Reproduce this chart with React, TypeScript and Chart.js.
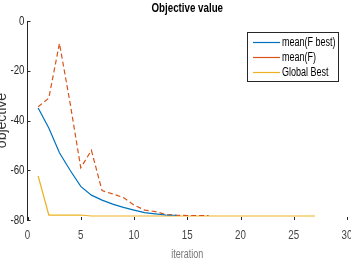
import React, { useEffect, useRef } from "react";
import { Chart, registerables } from "chart.js";

Chart.register(...registerables);

const iterations = [1, 2, 3, 4, 5, 6, 7, 8, 9, 10, 11, 12, 13, 14, 15, 16, 17, 18, 19, 20, 21, 22, 23, 24, 25, 26, 27];
const meanFBest = [-35, -43, -53, -60, -66.5, -70, -72, -73.6, -74.9, -76, -77, -77.5, -78, -78.1];
const meanF = [-34.5, -31, -9, -33, -59, -52, -68.2, -69.5, -71, -74, -76, -76.6, -77.8, -78.1, -78.2, -78.2, -78.2];
const globalBest = [-62.3, -78, -78, -78, -78, -78.4, -78.4, -78.4, -78.4, -78.4, -78.4, -78.4, -78.4, -78.4, -78.4, -78.4, -78.4, -78.4, -78.4, -78.4, -78.4, -78.4, -78.4, -78.4, -78.4, -78.4, -78.4];
const seriesLabels = ["mean(F best)", "mean(F)", "Global Best"];
const seriesColors = ["#0072BD", "#D95319", "#EDB120"];
const xTicks = [0, 5, 10, 15, 20, 25, 30];
const yTicks = [0, -20, -40, -60, -80];

const FONT = '"Liberation Sans", Arial, sans-serif';
const SQUEEZE = 0.75;

// Draw horizontal text slightly condensed, like the reference's narrow type.
function condenseText(ctx: any) {
  if (ctx.__condensed) return;
  ctx.__condensed = true;
  const fill = ctx.fillText.bind(ctx);
  const measure = ctx.measureText.bind(ctx);
  ctx.fillText = (text: string, x: number, y: number, maxWidth?: number) => {
    const m = ctx.getTransform();
    if (Math.abs(m.b) > 1e-6 || Math.abs(m.c) > 1e-6) {
      if (maxWidth === undefined) fill(text, x, y); else fill(text, x, y, maxWidth);
      return;
    }
    ctx.save();
    ctx.translate(x, y);
    ctx.scale(SQUEEZE, 1);
    if (maxWidth === undefined) fill(text, 0, 0); else fill(text, 0, 0, maxWidth / SQUEEZE);
    ctx.restore();
  };
  ctx.measureText = (text: string) => {
    const r = measure(text);
    return {
      width: r.width * SQUEEZE,
      actualBoundingBoxAscent: r.actualBoundingBoxAscent,
      actualBoundingBoxDescent: r.actualBoundingBoxDescent,
      actualBoundingBoxLeft: r.actualBoundingBoxLeft * SQUEEZE,
      actualBoundingBoxRight: r.actualBoundingBoxRight * SQUEEZE,
    };
  };
}

const toPoints = (vals: number[]) => vals.map((v, i) => ({ x: iterations[i], y: v }));

const tickMarks = {
  id: "tickMarks",
  afterDraw(chart: any) {
    const { ctx, chartArea, scales } = chart;
    ctx.save();
    ctx.strokeStyle = "#262626";
    ctx.lineWidth = 1;
    ctx.beginPath();
    scales.y.ticks.forEach((t: any) => {
      const y = Math.round(scales.y.getPixelForValue(t.value)) + 0.5;
      ctx.moveTo(chartArea.left, y);
      ctx.lineTo(chartArea.left + 3, y);
    });
    scales.x.ticks.forEach((t: any) => {
      const x = Math.round(scales.x.getPixelForValue(t.value)) + 0.5;
      ctx.moveTo(x, chartArea.bottom);
      ctx.lineTo(x, chartArea.bottom - 3);
    });
    ctx.stroke();
    ctx.restore();
  },
};

const boxLegend = {
  id: "boxLegend",
  afterDraw(chart: any) {
    const { ctx } = chart;
    const bx = 255, by = 32, bw = 91, bh = 49;
    ctx.save();
    ctx.fillStyle = "#ffffff";
    ctx.fillRect(bx, by, bw, bh);
    ctx.strokeStyle = "#262626";
    ctx.lineWidth = 1;
    ctx.strokeRect(bx + 0.5, by + 0.5, bw, bh);
    ctx.font = "12px " + FONT;
    ctx.textBaseline = "middle";
    ctx.textAlign = "left";
    chart.data.datasets.forEach((ds: any, i: number) => {
      const y = by + 10.5 + i * 15;
      ctx.strokeStyle = ds.borderColor;
      ctx.lineWidth = 1.2;
      ctx.setLineDash([]);
      ctx.beginPath();
      ctx.moveTo(bx + 6, y);
      ctx.lineTo(bx + 33, y);
      ctx.stroke();
      ctx.fillStyle = "#000000";
      ctx.fillText(ds.label, bx + 35, y);
    });
    ctx.restore();
  },
};

export default function App() {
  const ref = useRef<HTMLCanvasElement>(null);
  useEffect(() => {
    if (!ref.current) return;
    const ctx = ref.current.getContext("2d");
    condenseText(ctx);
    const chart = new Chart(ref.current, {
      type: "line",
      data: {
        datasets: [
          { label: seriesLabels[0], data: toPoints(meanFBest), borderColor: seriesColors[0], borderWidth: 1.2, pointRadius: 0, tension: 0, fill: false },
          { label: seriesLabels[1], data: toPoints(meanF), borderColor: seriesColors[1], borderWidth: 1.2, borderDash: [5, 3], pointRadius: 0, tension: 0, fill: false },
          { label: seriesLabels[2], data: toPoints(globalBest), borderColor: seriesColors[2], borderWidth: 1.2, pointRadius: 0, tension: 0, fill: false },
        ],
      },
      options: {
        responsive: false,
        animation: false,
        layout: { padding: { left: 0, right: 4, top: 0, bottom: 0 } },
        plugins: {
          legend: { display: false },
          tooltip: { enabled: false },
          title: {
            display: true,
            text: "Objective value",
            fullSize: false,
            color: "#000000",
            font: { family: FONT, size: 13, weight: "bold" },
            padding: { top: 1, bottom: 4.4 },
          },
        },
        scales: {
          x: {
            type: "linear",
            min: 0,
            max: 30,
            afterBuildTicks: (s: any) => { s.ticks = xTicks.map((v) => ({ value: v })); },
            afterFit: (s: any) => { s.height = 52; s.paddingLeft = 0; s.paddingRight = 0; },
            grid: { display: false, drawTicks: false },
            border: { display: false },
            ticks: { color: "#444444", font: { family: FONT, size: 13 }, padding: 8, maxRotation: 0, autoSkip: false },
            title: { display: true, text: "iteration", color: "#777777", font: { family: FONT, size: 12 }, padding: { top: 0, bottom: 10 } },
          },
          y: {
            type: "linear",
            min: -80,
            max: 0,
            afterBuildTicks: (s: any) => { s.ticks = yTicks.map((v) => ({ value: v })); },
            afterFit: (s: any) => { s.width = 35.5; s.paddingTop = 0; s.paddingBottom = 0; },
            grid: { display: false, drawTicks: false },
            border: { display: true, color: "#262626", width: 1 },
            ticks: { color: "#262626", font: { family: FONT, size: 13 }, padding: 3, autoSkip: false },
            title: { display: true, text: "objective", color: "#333333", font: { family: FONT, size: 14 }, padding: { top: 2.1, bottom: 0 } },
          },
        },
      },
      plugins: [tickMarks, boxLegend],
    } as any);
    return () => chart.destroy();
  }, []);
  return (
    <div style={{ position: "absolute", left: -8, top: 0, width: 359, height: 272, background: "#fff" }}>
      <canvas ref={ref} width={359} height={272} />
    </div>
  );
}
